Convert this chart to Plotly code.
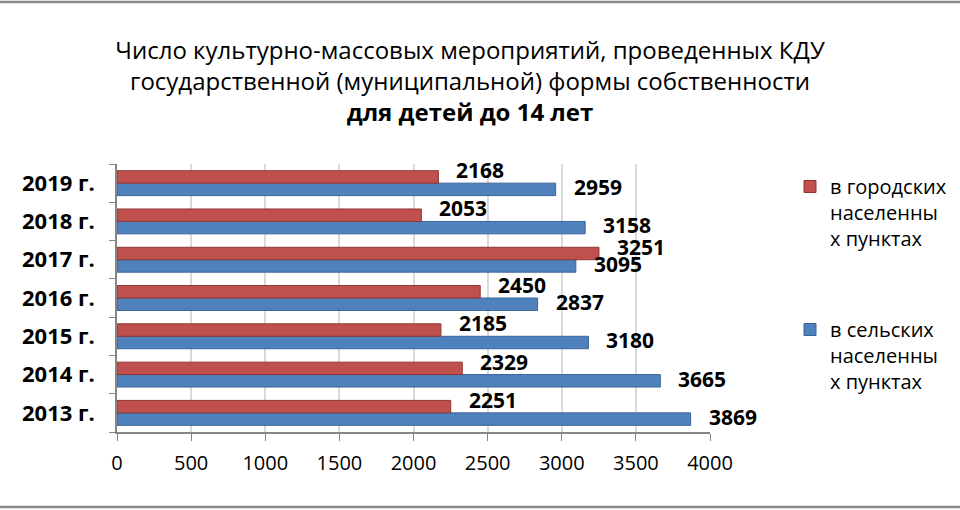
import plotly.graph_objects as go

# data
years = ["2013 г.", "2014 г.", "2015 г.", "2016 г.", "2017 г.", "2018 г.", "2019 г."]
urban = [2251, 2329, 2185, 2450, 3251, 2053, 2168]   # в городских населенных пунктах
rural = [3869, 3665, 3180, 2837, 3095, 3158, 2959]   # в сельских населенных пунктах

urban_name = "в городских<br>населенны<br>х пунктах"
rural_name = "в сельских<br>населенны<br>х пунктах"

RED = "#c0504d"
BLUE = "#4f81bd"
FONT = "Open Sans"

# plot area in pixels
L, R, T, B = 117, 250, 164, 78
PW, PH = 960 - L - R, 510 - T - B

fig = go.Figure()
# blue first so that it sits below the red bar inside each group
fig.add_trace(go.Bar(
    y=years, x=rural, orientation="h", name=rural_name, legendgroup="r",
    legendrank=2,
    marker=dict(color=BLUE, line=dict(color="#3a6598", width=1)),
))
fig.add_trace(go.Bar(
    y=years, x=urban, orientation="h", name=urban_name, legendgroup="u",
    legendrank=1,
    marker=dict(color=RED, line=dict(color="#8f3634", width=1)),
))

# value labels: red ones sit a little above, blue ones a little below
for vals, dy in ((urban, 13), (rural, -4)):
    for yr, v in zip(years, vals):
        fig.add_annotation(
            x=v, y=yr, xref="x", yref="y", text=str(v), showarrow=False,
            xanchor="left", yanchor="middle", xshift=16, yshift=dy,
            font=dict(family=FONT, size=21, color="black", weight="bold"),
        )

fig.update_layout(
    width=960, height=510,
    margin=dict(l=L, r=R, t=T, b=B, autoexpand=False),
    paper_bgcolor="white", plot_bgcolor="white",
    barmode="group", bargap=0.35, bargroupgap=0,
    font=dict(family=FONT, color="black"),
    title=dict(
        text="Число культурно-массовых мероприятий, проведенных КДУ<br>"
             "государственной (муниципальной) формы собственности<br>"
             "<b>для детей до 14 лет</b>",
        x=470 / 960, xanchor="center", xref="container",
        y=1 - 59 / 510, yanchor="top", yref="container",
        font=dict(family=FONT, size=24, color="black"),
    ),
    legend=dict(
        x=(790 - L) / PW, xanchor="left", y=(510 - B - 167) / PH, yanchor="top",
        traceorder="grouped", tracegroupgap=62, valign="top",
        font=dict(family=FONT, size=20, color="black"),
        itemwidth=30,
    ),
    showlegend=True,
)

fig.update_xaxes(
    range=[0, 4000], dtick=500, ticks="outside", ticklen=7,
    tickcolor="#868686", showline=True, linecolor="#868686", linewidth=1.5,
    showgrid=True, gridcolor="#d9d9d9", gridwidth=1.5, zeroline=False,
    tickfont=dict(family=FONT, size=20, color="black"),
    ticklabelstandoff=5, automargin=False,
)
fig.update_yaxes(
    type="category", range=[-0.5, len(years) - 0.5],
    ticks="outside", ticklen=6, tickson="boundaries",
    tickcolor="#868686", showline=True, linecolor="#868686", linewidth=1.5,
    tickfont=dict(family=FONT, size=22, color="black", weight="bold"),
    ticklabelstandoff=16, automargin=False,
)

# top and bottom edges of the chart frame
for ypx in (2, 507):
    fig.add_shape(
        type="line", xref="paper", yref="paper",
        x0=-L / PW, x1=(960 - L) / PW,
        y0=(510 - B - ypx) / PH, y1=(510 - B - ypx) / PH,
        line=dict(color="#8c8c8c", width=2.5),
    )

# the page's default body margin would push the chart 8px down and right
fig.write_html("out.html", config={"displayModeBar": False},
               post_script="document.body.style.margin = '0';")
